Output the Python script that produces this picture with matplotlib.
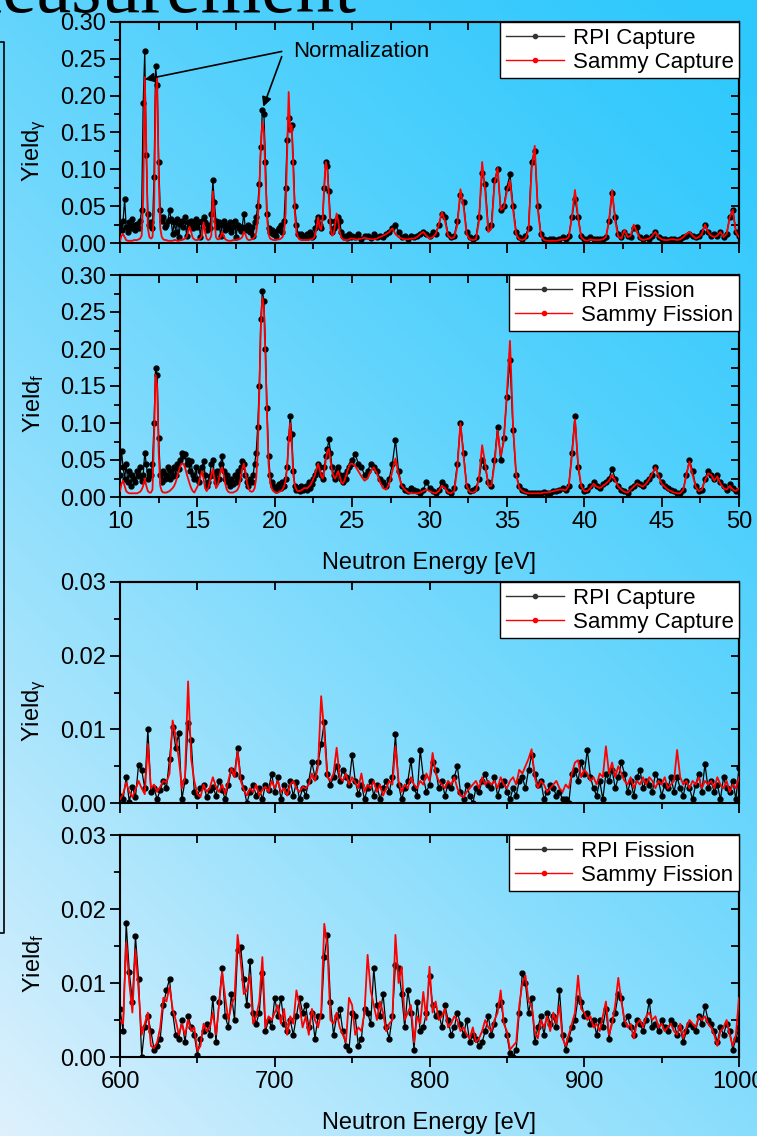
import numpy as np
import matplotlib
matplotlib.use('Agg')
import matplotlib.pyplot as plt
from matplotlib.lines import Line2D
from matplotlib.ticker import MultipleLocator, FormatStrFormatter, NullFormatter

plt.rcParams['font.family'] = ['Liberation Sans', 'DejaVu Sans']
plt.rcParams['mathtext.default'] = 'regular'

# ---- data ----
# low energy grid: 10-24.9 eV in 0.1 steps, 25-50 eV in 0.2 steps
e_low = np.concatenate([np.linspace(10.0, 24.9, 150), np.linspace(25.0, 50.0, 126)])
# high energy grid: 600-1000 eV in 2 eV steps
e_high = np.linspace(600, 1000, 201)

# yields in units of 1e-3
cap_rpi_low = [
    25, 18, 30, 60, 22, 15, 28, 20, 32, 24,
    18, 26, 20, 30, 45, 190, 260, 120, 40, 25,
    28, 20, 90, 240, 215, 110, 45, 30, 35, 22,
    25, 30, 45, 32, 12, 28, 15, 33, 8, 26,
    30, 22, 35, 10, 28, 24, 30, 20, 26, 32,
    22, 28, 8, 30, 35, 28, 18, 25, 20, 40,
    85, 55, 30, 22, 28, 10, 25, 30, 18, 24,
    20, 28, 15, 22, 30, 8, 25, 20, 16, 22,
    40, 20, 18, 25, 15, 22, 10, 28, 35, 50,
    80, 130, 180, 175, 110, 40, 20, 15, 18, 12,
    15, 10, 18, 20, 25, 15, 30, 75, 140, 170,
    155, 160, 110, 50, 25, 12, 10, 12, 8, 10,
    8, 12, 10, 15, 8, 10, 20, 30, 35, 25,
    20, 35, 75, 110, 105, 70, 30, 15, 20, 30,
    25, 35, 30, 15, 10, 8, 10, 7, 12, 8,
    10, 8, 12, 6, 9, 10, 7, 12, 8, 10,
    8, 12, 15, 20, 25, 15, 8, 10, 6, 9,
    8, 10, 12, 15, 12, 10, 15, 12, 25, 40,
    35, 12, 8, 10, 30, 65, 55, 15, 8, 6,
    8, 35, 95, 80, 20, 25, 85, 100, 45, 50,
    75, 93, 50, 15, 8, 5, 10, 20, 110, 125,
    50, 12, 5, 4, 5, 6, 4, 5, 8, 5,
    10, 35, 60, 35, 10, 6, 5, 8, 5, 6,
    5, 6, 8, 30, 68, 35, 12, 8, 15, 10,
    8, 20, 22, 8, 5, 8, 6, 10, 15, 8,
    5, 6, 4, 6, 5, 4, 6, 8, 10, 12,
    10, 8, 10, 15, 25, 15, 10, 12, 10, 15,
    8, 12, 35, 45, 15, 10,
]
cap_sammy_low = [
    3, 10, 12, 8, 4, 3, 3, 3, 3, 4,
    4, 4, 5, 6, 10, 60, 225, 130, 20, 8,
    6, 8, 40, 200, 225, 90, 20, 8, 5, 4,
    4, 3, 3, 3, 3, 4, 4, 3, 3, 4,
    4, 5, 6, 8, 15, 22, 15, 7, 5, 4,
    4, 5, 6, 10, 28, 15, 6, 4, 5, 10,
    70, 35, 8, 5, 5, 8, 15, 10, 5, 4,
    3, 3, 3, 4, 4, 4, 5, 5, 6, 8,
    15, 12, 6, 4, 4, 5, 6, 8, 14, 30,
    70, 130, 165, 150, 90, 35, 12, 6, 5, 4,
    4, 4, 5, 5, 6, 8, 14, 40, 120, 205,
    150, 160, 100, 40, 15, 8, 5, 4, 4, 4,
    4, 4, 4, 5, 5, 6, 10, 20, 35, 22,
    18, 35, 80, 110, 100, 60, 20, 10, 12, 25,
    40, 30, 15, 8, 5, 4, 4, 4, 5, 6,
    6, 5, 5, 6, 7, 6, 5, 5, 6, 8,
    10, 12, 15, 20, 12, 8, 6, 5, 5, 6,
    6, 8, 12, 15, 10, 6, 8, 12, 25, 42,
    30, 10, 6, 8, 25, 73, 50, 12, 5, 4,
    5, 30, 110, 70, 15, 20, 80, 102, 45, 48,
    70, 85, 45, 12, 5, 4, 6, 18, 100, 132,
    45, 10, 4, 3, 3, 3, 3, 4, 5, 5,
    8, 35, 72, 35, 8, 4, 3, 5, 4, 4,
    4, 5, 8, 30, 72, 30, 8, 6, 18, 8,
    10, 25, 15, 6, 4, 5, 6, 10, 15, 8,
    5, 4, 4, 5, 5, 4, 5, 8, 12, 15,
    10, 6, 8, 12, 25, 15, 10, 8, 10, 15,
    8, 12, 35, 45, 15, 8,
]
fis_rpi_low = [
    30, 62, 40, 25, 45, 20, 35, 15, 30, 25,
    20, 35, 28, 40, 22, 30, 60, 45, 25, 35,
    30, 45, 100, 175, 165, 80, 30, 20, 35, 25,
    30, 40, 25, 35, 28, 40, 30, 45, 38, 50,
    60, 55, 58, 45, 50, 35, 48, 30, 25, 40,
    25, 20, 35, 40, 48, 30, 15, 20, 28, 45,
    50, 30, 20, 35, 25, 45, 55, 35, 25, 30,
    20, 15, 25, 18, 30, 20, 35, 25, 40, 48,
    45, 30, 20, 15, 25, 20, 30, 45, 60, 95,
    150, 240, 278, 265, 200, 120, 55, 30, 20, 15,
    12, 10, 15, 18, 12, 20, 15, 25, 40, 80,
    110, 85, 35, 15, 10, 12, 8, 15, 10, 12,
    15, 10, 20, 12, 18, 25, 30, 35, 45, 40,
    30, 25, 40, 55, 65, 78, 60, 40, 30, 25,
    35, 40, 30, 25, 20, 30, 25, 35, 40, 45,
    50, 58, 45, 40, 30, 35, 45, 40, 35, 25,
    20, 15, 25, 45, 77, 35, 15, 10, 8, 12,
    10, 8, 6, 10, 20, 12, 8, 6, 10, 20,
    15, 8, 6, 12, 45, 100, 60, 15, 8, 10,
    12, 25, 50, 40, 20, 15, 50, 95, 50, 80,
    135, 185, 90, 30, 15, 10, 8, 6, 5, 6,
    5, 6, 7, 5, 6, 8, 8, 10, 12, 10,
    15, 60, 110, 40, 15, 8, 10, 15, 20, 15,
    12, 18, 20, 25, 38, 25, 15, 10, 8, 6,
    12, 15, 20, 18, 15, 20, 25, 30, 40, 30,
    20, 15, 12, 10, 8, 6, 5, 10, 30, 50,
    35, 15, 8, 10, 25, 35, 30, 25, 30, 20,
    15, 10, 18, 12, 8, 10,
]
fis_sammy_low = [
    8, 18, 22, 15, 8, 6, 5, 5, 5, 5,
    5, 5, 6, 7, 10, 15, 25, 15, 8, 6,
    6, 10, 80, 165, 150, 60, 15, 8, 6, 6,
    6, 7, 8, 10, 12, 15, 20, 28, 35, 42,
    45, 45, 40, 32, 25, 18, 12, 8, 6, 10,
    14, 20, 28, 35, 25, 12, 8, 12, 20, 30,
    38, 25, 12, 15, 25, 35, 40, 30, 18, 10,
    7, 6, 6, 6, 7, 8, 10, 15, 25, 38,
    45, 35, 20, 12, 8, 7, 8, 12, 25, 60,
    140, 230, 270, 255, 190, 110, 45, 20, 12, 8,
    7, 6, 6, 7, 8, 10, 14, 22, 40, 75,
    100, 70, 30, 15, 10, 8, 8, 9, 10, 12,
    12, 12, 14, 16, 20, 25, 30, 38, 45, 38,
    28, 25, 35, 50, 62, 65, 50, 35, 28, 25,
    30, 35, 28, 20, 18, 22, 28, 35, 42, 45,
    45, 42, 35, 28, 22, 25, 35, 40, 32, 20,
    12, 10, 18, 35, 52, 30, 15, 10, 6, 5,
    5, 5, 6, 8, 10, 8, 6, 5, 8, 15,
    12, 6, 5, 8, 40, 100, 55, 15, 7, 6,
    8, 25, 70, 45, 15, 15, 45, 90, 55, 75,
    140, 211, 95, 30, 12, 8, 6, 5, 5, 5,
    5, 5, 6, 6, 7, 8, 9, 10, 10, 9,
    15, 55, 105, 45, 15, 8, 8, 12, 18, 14,
    12, 15, 18, 22, 30, 22, 14, 10, 7, 6,
    10, 14, 18, 16, 14, 18, 24, 32, 40, 28,
    18, 14, 10, 8, 6, 5, 5, 10, 30, 48,
    30, 14, 8, 10, 22, 32, 30, 22, 28, 18,
    12, 10, 15, 10, 8, 12,
]

# yields in units of 1e-4
cap_rpi_high = [
    10, 5, 35, 2, 22, 8, 52, 45, 20, 100,
    15, 20, 5, 18, 30, 20, 60, 103, 75, 95,
    5, 30, 108, 85, 15, 10, 20, 25, 8, 18,
    22, 10, 30, 18, 5, 25, 45, 40, 75, 35,
    20, 0, 15, 25, 10, 20, 5, 25, 18, 40,
    15, 35, 5, 25, 15, 30, 10, 28, 5, 20,
    10, 30, 55, 35, 55, 80, 110, 40, 25, 35,
    50, 30, 45, 35, 25, 65, 30, 12, 25, 5,
    20, 30, 10, 25, 5, 20, 30, 15, 35, 93,
    25, 5, 20, 30, 58, 20, 10, 72, 35, 15,
    25, 55, 45, 20, 30, 10, 25, 20, 35, 50,
    15, 5, 25, 10, 0, 20, 15, 30, 40, 25,
    20, 35, 10, 25, 30, 15, 5, 20, 10, 30,
    35, 20, 45, 65, 40, 25, 30, 5, 15, 25,
    20, 10, 15, 5, 5, 0, 40, 45, 30, 55,
    40, 72, 35, 20, 10, 30, 5, 40, 30, 45,
    20, 35, 55, 40, 15, 30, 10, 35, 45, 20,
    30, 25, 15, 40, 30, 10, 25, 20, 35, 15,
    35, 20, 10, 30, 20, 5, 25, 40, 15, 53,
    20, 30, 15, 25, 5, 35, 20, 15, 30, 5,
    48,
]
cap_sammy_high = [
    5, 12, 28, 15, 8, 18, 30, 20, 12, 80,
    20, 25, 15, 22, 30, 28, 40, 112, 90, 60,
    20, 35, 165, 60, 30, 12, 8, 25, 15, 20,
    35, 22, 15, 25, 12, 30, 48, 35, 70, 30,
    18, 10, 20, 15, 25, 10, 18, 22, 15, 30,
    20, 30, 15, 20, 10, 25, 30, 20, 15, 22,
    20, 25, 40, 30, 50, 145, 95, 35, 30, 40,
    75, 35, 30, 40, 25, 35, 28, 20, 40, 15,
    25, 20, 30, 15, 25, 10, 20, 30, 25, 77,
    30, 15, 25, 20, 35, 25, 20, 30, 25, 40,
    30, 68, 40, 30, 25, 20, 30, 25, 35, 20,
    10, 8, 15, 20, 25, 30, 20, 35, 25, 30,
    25, 30, 20, 35, 25, 20, 30, 35, 25, 45,
    40, 50, 60, 73, 35, 20, 30, 25, 15, 20,
    25, 30, 20, 15, 25, 20, 40, 55, 58, 35,
    45, 40, 30, 35, 25, 40, 35, 77, 40, 55,
    35, 50, 40, 30, 25, 35, 20, 30, 25, 35,
    25, 35, 30, 20, 30, 25, 35, 20, 25, 30,
    72, 35, 25, 30, 20, 30, 25, 35, 20, 30,
    25, 30, 20, 35, 25, 20, 30, 15, 25, 20,
    35,
]
fis_rpi_high = [
    65, 35, 181, 115, 75, 163, 105, 0, 40, 55,
    35, 10, 15, 25, 70, 90, 105, 60, 30, 25,
    50, 20, 55, 40, 30, 3, 25, 35, 45, 30,
    80, 20, 75, 120, 55, 40, 85, 50, 145, 148,
    105, 70, 130, 60, 45, 60, 113, 35, 50, 40,
    80, 55, 80, 45, 35, 50, 30, 55, 80, 60,
    70, 40, 60, 25, 55, 55, 135, 165, 75, 30,
    55, 65, 35, 15, 10, 60, 55, 15, 25, 65,
    60, 45, 120, 70, 55, 85, 40, 25, 55, 125,
    120, 85, 40, 90, 60, 9, 75, 35, 40, 60,
    110, 70, 55, 60, 40, 70, 50, 30, 40, 60,
    45, 30, 50, 20, 30, 25, 15, 20, 35, 55,
    30, 45, 70, 75, 50, 30, 5, 0, 10, 60,
    113, 100, 60, 80, 20, 40, 55, 30, 60, 45,
    55, 40, 90, 30, 10, 25, 40, 50, 80, 75,
    55, 60, 45, 50, 30, 50, 40, 65, 25, 50,
    60, 85, 80, 45, 55, 40, 30, 50, 45, 35,
    50, 76, 40, 45, 35, 50, 40, 35, 50, 45,
    30, 40, 20, 35, 45, 40, 35, 55, 45, 69,
    50, 45, 35, 20, 40, 30, 45, 35, 10, 25,
    40,
]
fis_sammy_high = [
    50, 45, 155, 100, 60, 145, 90, 30, 45, 60,
    15, 12, 20, 40, 80, 75, 95, 65, 50, 30,
    45, 30, 50, 35, 40, 8, 15, 45, 35, 40,
    60, 30, 70, 115, 80, 50, 70, 80, 165, 130,
    85, 90, 110, 45, 55, 75, 135, 40, 55, 50,
    60, 70, 45, 65, 30, 55, 45, 90, 70, 40,
    55, 30, 65, 50, 40, 60, 180, 150, 50, 45,
    60, 40, 30, 20, 80, 70, 30, 40, 35, 60,
    138, 90, 70, 50, 75, 60, 35, 45, 50, 165,
    100, 122, 50, 60, 70, 20, 55, 45, 88, 50,
    122, 60, 75, 50, 55, 65, 40, 45, 55, 50,
    35, 40, 30, 25, 40, 20, 25, 35, 50, 40,
    35, 50, 60, 90, 45, 35, 10, 15, 20, 70,
    100, 110, 75, 70, 35, 25, 50, 40, 55, 35,
    60, 45, 70, 25, 15, 30, 45, 60, 110, 65,
    60, 50, 55, 40, 45, 35, 55, 75, 30, 45,
    70, 107, 75, 50, 40, 45, 25, 45, 50, 40,
    55, 60, 50, 55, 40, 45, 35, 40, 45, 35,
    30, 45, 25, 40, 50, 45, 40, 55, 50, 55,
    45, 40, 30, 15, 35, 40, 50, 30, 15, 30,
    80,
]

W, H = 757, 1136
fig = plt.figure(figsize=(W / 100, H / 100), dpi=100)

# slide background gradient (top right dark cyan -> bottom left pale)
bg = fig.add_axes([0, 0, 1, 1], zorder=-10)
xx, yy = np.meshgrid(np.linspace(0, 1, 200), np.linspace(0, 1, 300))
t = ((W - xx * W) + yy * H) / (W + H)
t = t ** 1.3
c0 = np.array([45, 200, 252]) / 255.0
c1 = np.array([222, 241, 253]) / 255.0
img = c0[None, None, :] * (1 - t[..., None]) + c1[None, None, :] * t[..., None]
bg.imshow(img, aspect='auto', extent=[0, 1, 1, 0], origin='upper')
bg.set_xlim(0, 1)
bg.set_ylim(1, 0)
bg.axis('off')

# slide title cut off at the top and box edge on the left
fig.text(-66 / W, 1 - 12 / H, 'Measurement', fontsize=56, family='Liberation Serif',
         ha='left', va='baseline')
fig.add_artist(Line2D([0, 4 / W, 4 / W, 0], [1 - 42 / H, 1 - 42 / H, 1 - 933 / H, 1 - 933 / H],
                      transform=fig.transFigure, color='k', lw=1.2))

FS = 17      # tick labels / axis labels
LFS = 16     # legend
left, width = 120 / W, 619 / W
boxes = [(22, 243), (275, 497), (582, 803), (835, 1057)]
axes = []
for top, bot in boxes:
    ax = fig.add_axes([left, 1 - bot / H, width, (bot - top) / H])
    ax.patch.set_alpha(0)
    axes.append(ax)


def style(ax, xlim, ylim, xmaj, xmin, ymaj, ymin, xlabels):
    ax.set_xlim(*xlim)
    ax.set_ylim(*ylim)
    ax.xaxis.set_major_locator(MultipleLocator(xmaj))
    ax.xaxis.set_minor_locator(MultipleLocator(xmin))
    ax.yaxis.set_major_locator(MultipleLocator(ymaj))
    ax.yaxis.set_minor_locator(MultipleLocator(ymin))
    ax.yaxis.set_major_formatter(FormatStrFormatter('%.2f'))
    ax.xaxis.set_major_formatter(FormatStrFormatter('%d'))
    ax.tick_params(which='major', direction='out', length=7, width=1.3, labelsize=FS,
                   top=False, right=False, labelbottom=xlabels, pad=3)
    ax.tick_params(which='minor', direction='out', length=4, width=1.3, top=False, right=False)
    for s in ax.spines.values():
        s.set_linewidth(1.5)
    sx = ax.secondary_xaxis('top')
    sx.xaxis.set_major_locator(MultipleLocator(xmin))
    sx.xaxis.set_major_formatter(NullFormatter())
    sx.tick_params(direction='in', length=6, width=1.3)
    sx.spines['top'].set_linewidth(1.5)
    sy = ax.secondary_yaxis('right')
    sy.yaxis.set_major_locator(MultipleLocator(ymin))
    sy.yaxis.set_major_formatter(NullFormatter())
    sy.tick_params(direction='in', length=6, width=1.3)
    sy.spines['right'].set_linewidth(1.5)


def draw(ax, x, rpi, sammy, scale, names, ylabel):
    ax.plot(x, np.array(rpi) * scale, color='k', lw=0.9, marker='o', ms=3.5, zorder=2)
    ax.plot(x, np.array(sammy) * scale, color='#ff0000', lw=1.3, zorder=3)
    handles = [Line2D([], [], color='#333333', lw=1, marker='o', ms=3),
               Line2D([], [], color='#ff0000', lw=1, marker='o', ms=3)]
    leg = ax.legend(handles, names, loc='upper right', bbox_to_anchor=(1, 1), borderaxespad=0,
                    fontsize=LFS, handlelength=2.6, handletextpad=0.4, borderpad=0.25,
                    labelspacing=0.15, fancybox=False, framealpha=1)
    leg.get_frame().set_edgecolor('k')
    leg.get_frame().set_linewidth(1.0)
    ax.text(-0.139, 0.42, ylabel, fontsize=FS, rotation=90, ha='center', va='center',
            transform=ax.transAxes)


ax1, ax2, ax3, ax4 = axes
draw(ax1, e_low, cap_rpi_low, cap_sammy_low, 1e-3, ['RPI Capture', 'Sammy Capture'], r'Yield$_\gamma$')
draw(ax2, e_low, fis_rpi_low, fis_sammy_low, 1e-3, ['RPI Fission', 'Sammy Fission'], r'Yield$_f$')
draw(ax3, e_high, cap_rpi_high, cap_sammy_high, 1e-4, ['RPI Capture', 'Sammy Capture'], r'Yield$_\gamma$')
draw(ax4, e_high, fis_rpi_high, fis_sammy_high, 1e-4, ['RPI Fission', 'Sammy Fission'], r'Yield$_f$')

style(ax1, (10, 50), (0, 0.30), 5, 2.5, 0.05, 0.025, False)
style(ax2, (10, 50), (0, 0.30), 5, 2.5, 0.05, 0.025, True)
style(ax3, (600, 1000), (0, 0.03), 100, 50, 0.01, 0.005, False)
style(ax4, (600, 1000), (0, 0.03), 100, 50, 0.01, 0.005, True)

ax2.set_xlabel('Neutron Energy [eV]', fontsize=FS, labelpad=14)
ax4.set_xlabel('Neutron Energy [eV]', fontsize=FS, labelpad=14)

# normalization arrows
ax1.text(21.2, 0.26, 'Normalization', fontsize=LFS, va='center', ha='left')
arrow = dict(arrowstyle='-|>', color='k', lw=1.2, mutation_scale=14, shrinkA=0, shrinkB=0)
ax1.annotate('', xy=(11.6, 0.222), xytext=(20.45, 0.26), arrowprops=arrow)
ax1.annotate('', xy=(19.26, 0.185), xytext=(20.45, 0.253), arrowprops=arrow)

fig.savefig('out.png', dpi=100)
